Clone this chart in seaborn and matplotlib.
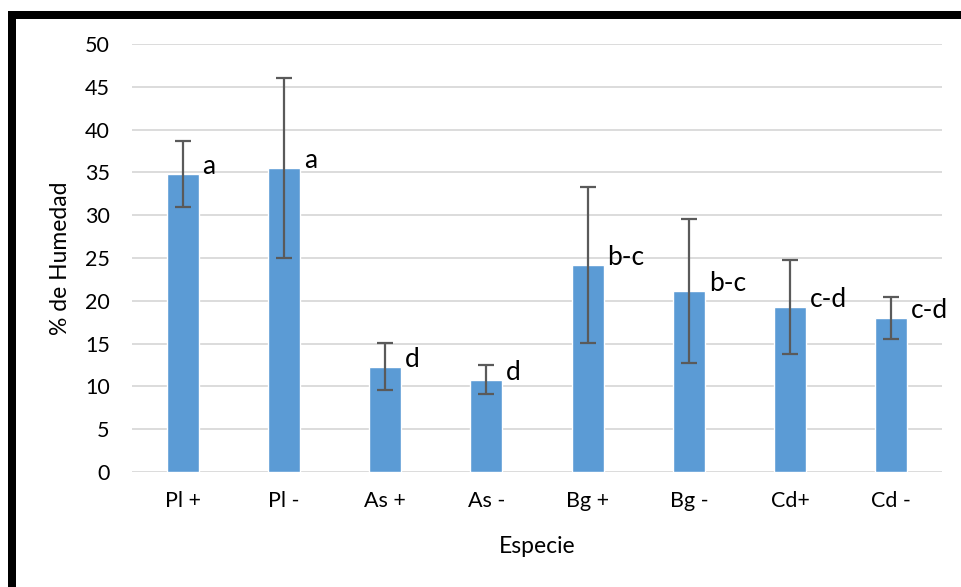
import matplotlib
matplotlib.use("Agg")
import matplotlib.pyplot as plt
from matplotlib.lines import Line2D
import seaborn as sns
import pandas as pd
import numpy as np

# Data
categories = ["Pl +", "Pl -", "As +", "As -", "Bg +", "Bg -", "Cd+", "Cd -"]
humedad = [34.85, 35.5, 12.3, 10.8, 24.15, 21.1, 19.3, 18.0]
error = [3.85, 10.55, 2.75, 1.7, 9.1, 8.4, 5.5, 2.45]
letters = ["a", "a", "d", "d", "b-c", "b-c", "c-d", "c-d"]
y_ticks = [0, 5, 10, 15, 20, 25, 30, 35, 40, 45, 50]

df = pd.DataFrame({"Especie": categories, "Humedad": humedad})

sns.set_theme(style="white")
plt.rcParams["font.family"] = ["Lato", "DejaVu Sans"]

W, H = 961, 587
fig = plt.figure(figsize=(W / 100, H / 100), dpi=100)
ax = fig.add_axes([132 / W, (H - 472) / H, (942 - 132) / W, (472 - 44) / H])

bar_color = "#5b9bd5"
sns.barplot(data=df, x="Especie", y="Humedad", order=categories,
            color=bar_color, saturation=1, width=0.316, errorbar=None,
            ax=ax, zorder=2)

xpos = np.arange(len(categories))
ax.errorbar(xpos, humedad, yerr=error, fmt="none", ecolor="#5a5a5a",
            elinewidth=1.6, capsize=6, capthick=1.6, zorder=3)

for x, v, lab in zip(xpos, humedad, letters):
    ax.annotate(lab, xy=(x + 0.158, v), xytext=(4, 0), textcoords="offset pixels",
                ha="left", va="baseline", fontsize=19, color="black")

ax.set_ylim(0, 50)
ax.set_xlim(-0.5, len(categories) - 0.5)
ax.set_yticks(y_ticks)
ax.set_yticklabels([str(t) for t in y_ticks])
ax.yaxis.grid(True, color="#d9d9d9", linewidth=1.3, zorder=0)
ax.set_axisbelow(True)
for s in ax.spines.values():
    s.set_visible(False)
ax.tick_params(axis="both", length=0, labelsize=15.5, colors="black")
ax.tick_params(axis="y", pad=16)
ax.tick_params(axis="x", pad=14)
ax.set_xlabel("Especie", fontsize=16.5, color="black", labelpad=18)
ax.set_ylabel("% de Humedad", fontsize=16.5, color="black", labelpad=10)

# Thick black frame (top and left)
fig.add_artist(Line2D([8 / W, 1.0], [(H - 15) / H, (H - 15) / H], color="black",
                      linewidth=8 * 72 / 100, solid_capstyle="butt",
                      transform=fig.transFigure))
fig.add_artist(Line2D([12 / W, 12 / W], [0, (H - 11) / H], color="black",
                      linewidth=8 * 72 / 100, solid_capstyle="butt",
                      transform=fig.transFigure))

fig.savefig("out.png", dpi=100, facecolor="white")
